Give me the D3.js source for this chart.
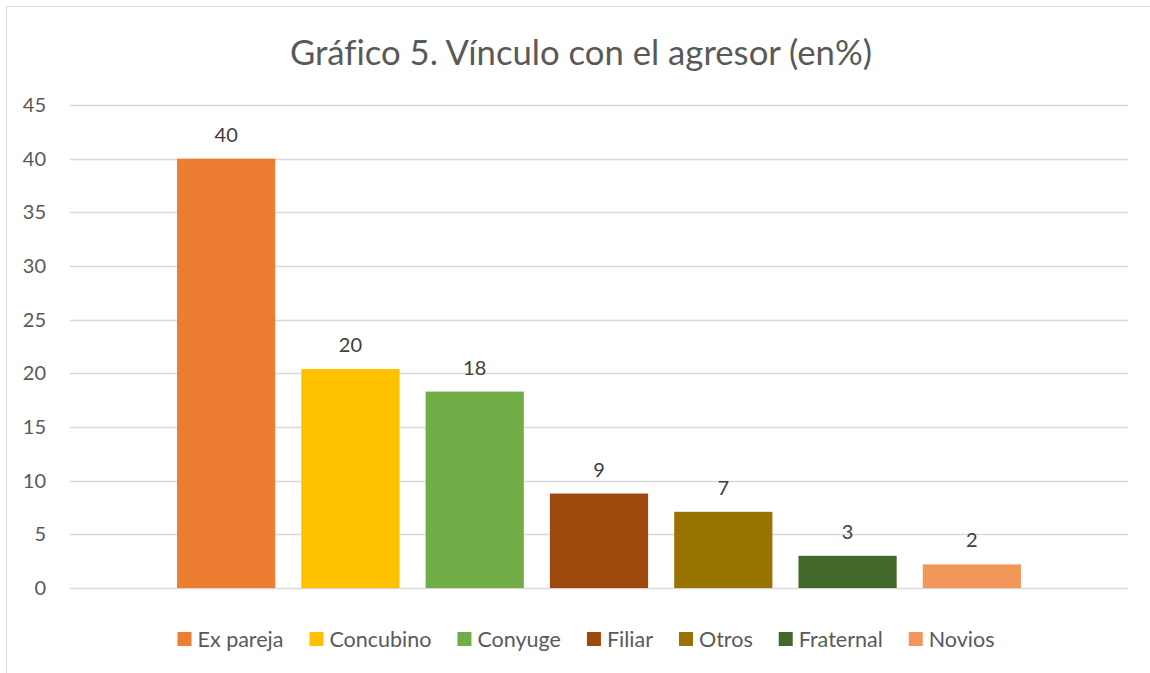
<!DOCTYPE html>
<html>
<head>
<meta charset="utf-8">
<script src="https://cdn.jsdelivr.net/npm/d3@7"></script>
<style>
  html, body { margin: 0; padding: 0; background: #fff; }
  svg { display: block; font-family: "Lato", "Open Sans", sans-serif; font-variant-ligatures: none; }
</style>
</head>
<body>
<svg id="chart" width="1150" height="673"></svg>
<script>
const title = "Gráfico 5. Vínculo con el agresor (en%)";
const categories = ["Ex pareja", "Concubino", "Conyuge", "Filiar", "Otros", "Fraternal", "Novios"];
const values = [40.0, 20.4, 18.3, 8.8, 7.1, 3.0, 2.2];
const valueLabels = ["40", "20", "18", "9", "7", "3", "2"];
const colors = ["#ED7D31", "#FFC000", "#70AD47", "#9E480E", "#997300", "#43682B", "#F1975A"];
const yTicks = [0, 5, 10, 15, 20, 25, 30, 35, 40, 45];

const svg = d3.select("#chart");

// chart frame
svg.append("rect")
  .attr("x", 6.5).attr("y", 6.5)
  .attr("width", 1200).attr("height", 700)
  .attr("fill", "#fff").attr("stroke", "#d9d9d9").attr("stroke-width", 1);

const plot = { left: 70, right: 1128, top: 105, bottom: 588 };

const y = d3.scaleLinear().domain([0, 45]).range([plot.bottom, plot.top]);
const x = d3.scaleBand().domain(categories).range([164, 1034])
  .paddingInner(0.21).paddingOuter(0.105);

// gridlines
svg.append("g").selectAll("line").data(yTicks).join("line")
  .attr("x1", plot.left).attr("x2", plot.right)
  .attr("y1", d => Math.round(y(d)) + 0.5).attr("y2", d => Math.round(y(d)) + 0.5)
  .attr("stroke", "#d9d9d9").attr("stroke-width", 1.3);

// y axis labels
const yAxis = d3.axisLeft(y).tickValues(yTicks).tickSize(0).tickPadding(0);
const gy = svg.append("g").attr("transform", "translate(46,0)").call(yAxis);
gy.select(".domain").remove();
gy.selectAll("text")
  .attr("fill", "#595959").attr("font-size", 20)
  .attr("font-family", "Lato, 'Open Sans', sans-serif");

// bars
svg.append("g").selectAll("rect").data(categories).join("rect")
  .attr("x", d => x(d))
  .attr("width", x.bandwidth())
  .attr("y", (d, i) => y(values[i]))
  .attr("height", (d, i) => y(0) - y(values[i]))
  .attr("fill", (d, i) => colors[i]);

// data labels
svg.append("g").selectAll("text").data(categories).join("text")
  .attr("x", d => x(d) + x.bandwidth() / 2)
  .attr("y", (d, i) => y(values[i]) - 17)
  .attr("text-anchor", "middle")
  .attr("fill", "#404040").attr("font-size", 20)
  .text((d, i) => valueLabels[i]);

// title
svg.append("text")
  .attr("x", 581).attr("y", 65)
  .attr("text-anchor", "middle")
  .attr("fill", "#595959").attr("font-size", 34.7)
  .text(title);

// legend
const legend = svg.append("g");
const items = legend.selectAll("g").data(categories).join("g");
items.append("rect").attr("width", 14).attr("height", 14).attr("y", -7)
  .attr("fill", (d, i) => colors[i]);
items.append("text").attr("x", 20).attr("y", 7.5)
  .attr("fill", "#595959").attr("font-size", 21.5)
  .text(d => d);
let cx = 0;
items.each(function () {
  const g = d3.select(this);
  g.attr("transform", `translate(${cx},639)`);
  const tw = g.select("text").node().getComputedTextLength();
  cx += 20 + tw + 26;
});
const total = cx - 26;
legend.attr("transform", `translate(${586 - total / 2},0)`);
</script>
</body>
</html>
